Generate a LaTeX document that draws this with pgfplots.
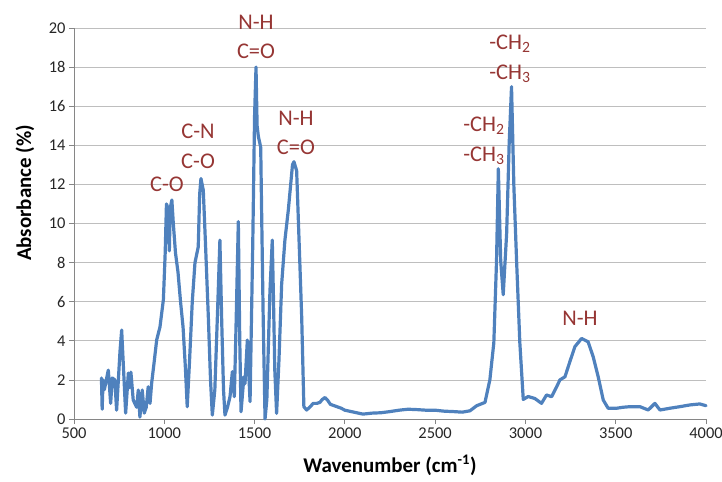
\documentclass[border=0pt]{standalone}
\usepackage{pgfplots}
\pgfplotsset{compat=1.18}
\usepackage{fontspec}
\setmainfont{Carlito}
\definecolor{ftirblue}{RGB}{79,129,189}
\definecolor{annored}{RGB}{150,54,52}
\definecolor{axgray}{RGB}{134,134,134}
\definecolor{gridgray}{RGB}{190,190,190}
\begin{document}
\begin{tikzpicture}[anno/.style={font=\fontsize{22.5}{24}\selectfont, text=annored, inner sep=0pt}]
\begin{axis}[
  name=ax,
  scale only axis,
  width=632bp, height=391bp,
  xmin=500, xmax=4000,
  ymin=0, ymax=20,
  xtick={500,1000,...,4000},
  ytick={0,2,...,20},
  axis x line=bottom, axis y line=left,
  axis line style={-, axgray, line width=0.8pt},
  tick style={axgray, line width=0.8pt},
  tick align=outside,
  major tick length=5bp,
  ymajorgrids,
  grid style={gridgray, line width=0.8pt},
  ticklabel style={font=\fontsize{16.5}{18}\selectfont, text=black!85},
  /pgf/number format/assume math mode=true,
  /pgf/number format/1000 sep={},
  xlabel={Wavenumber (cm\textsuperscript{-1})},
  ylabel={Absorbance (\%)},
  label style={font=\bfseries\fontsize{21}{24}\selectfont},
  xlabel style={at={(axis description cs:0.5,-0.118)}, anchor=center},
  ylabel style={at={(axis description cs:-0.0775,0.578)}, anchor=center},
  clip=false,
]
\addplot[ftirblue, line width=3.2bp, line join=round, line cap=round] coordinates {
(652,2.1) (656,0.5) (661,2.0) (668,1.5) (690,2.5) (703,0.8) (712,2.1) (726,2.0)
(736,0.45) (755,3.5) (764,4.55) (772,3.0) (786,0.3) (801,2.35) (808,1.6) (815,2.4)
(828,0.97) (847,0.6) (856,1.48) (865,0.1) (878,1.48) (889,0.3) (900,0.6) (911,1.65)
(921,0.8) (930,1.83) (945,3.0) (958,4.05) (976,4.7) (995,6.1) (1005,8.5) (1012,11.0)
(1020,10.8) (1028,8.6) (1033,10.8) (1042,11.2) (1050,10.0) (1062,8.5) (1076,7.5)
(1090,6.0) (1104,4.7) (1117,2.6) (1127,0.63) (1140,3.0) (1155,6.0) (1170,8.0)
(1188,8.8) (1196,11.5) (1203,12.3) (1216,11.7) (1228,9.0) (1244,5.2) (1256,2.0)
(1266,0.2) (1280,1.5) (1295,5.5) (1308,9.15) (1318,5.0) (1328,1.5) (1336,0.2)
(1350,0.6) (1364,1.14) (1377,2.42) (1388,1.14) (1398,5.0) (1410,10.1) (1418,4.0)
(1425,0.37) (1441,2.16) (1447,1.8) (1460,4.04) (1467,2.5) (1475,0.89) (1490,9.0)
(1500,15.5) (1508,18.0) (1514,15.0) (1521,14.45) (1534,13.9) (1540,10.0) (1548,5.0)
(1558,0.0) (1568,1.0) (1585,6.5) (1598,9.15) (1605,6.0) (1612,2.5) (1622,0.29)
(1635,3.0) (1650,6.9) (1668,9.15) (1687,10.7) (1700,12.0) (1710,13.0) (1718,13.16)
(1733,12.7) (1745,9.5) (1761,5.2) (1773,0.63) (1788,0.46) (1805,0.6) (1825,0.8)
(1845,0.8) (1862,0.85) (1875,1.0) (1890,1.1) (1905,0.95) (1920,0.75) (1950,0.65)
(1980,0.55) (2000,0.45) (2050,0.35) (2100,0.25) (2150,0.3) (2200,0.32) (2250,0.38)
(2300,0.45) (2350,0.5) (2400,0.48) (2450,0.45) (2500,0.45) (2550,0.4) (2600,0.38)
(2650,0.35) (2693,0.42) (2730,0.68) (2776,0.85) (2803,2.0) (2825,3.9) (2840,8.1)
(2850,12.8) (2863,8.1) (2877,6.36) (2896,9.5) (2910,14.1) (2923,17.0) (2936,11.9)
(2951,8.1) (2969,3.9) (2988,1.0) (3015,1.15) (3052,1.05) (3089,0.8) (3117,1.23)
(3145,1.14) (3173,1.65) (3191,2.0) (3219,2.16) (3246,2.93) (3274,3.7) (3311,4.12)
(3347,3.95) (3375,3.19) (3403,2.16) (3431,0.97) (3458,0.55) (3505,0.55) (3540,0.6)
(3579,0.63) (3634,0.63) (3680,0.46) (3717,0.8) (3745,0.46) (3800,0.55) (3855,0.63)
(3911,0.72) (3966,0.77) (4000,0.68)
};
\node[anno] at (axis cs:1015,12.0) {C-O};
\node[anno] at (axis cs:1187,14.7) {C-N};
\node[anno] at (axis cs:1187,13.2) {C-O};
\node[anno] at (axis cs:1508,20.3) {N-H};
\node[anno] at (axis cs:1508,18.8) {C=O};
\node[anno] at (axis cs:1729,15.4) {N-H};
\node[anno] at (axis cs:1729,13.9) {C=O};
\node[anno] at (axis cs:2770,15.0) {-CH\textsubscript{2}};
\node[anno] at (axis cs:2770,13.45) {-CH\textsubscript{3}};
\node[anno] at (axis cs:2914,19.2) {-CH\textsubscript{2}};
\node[anno] at (axis cs:2914,17.65) {-CH\textsubscript{3}};
\node[anno] at (axis cs:3302,5.17) {N-H};
\end{axis}
\pgfresetboundingbox
\path[use as bounding box] ([xshift=-74bp,yshift=-63bp]ax.south west) rectangle ([xshift=16bp,yshift=28bp]ax.north east);
\end{tikzpicture}
\end{document}
